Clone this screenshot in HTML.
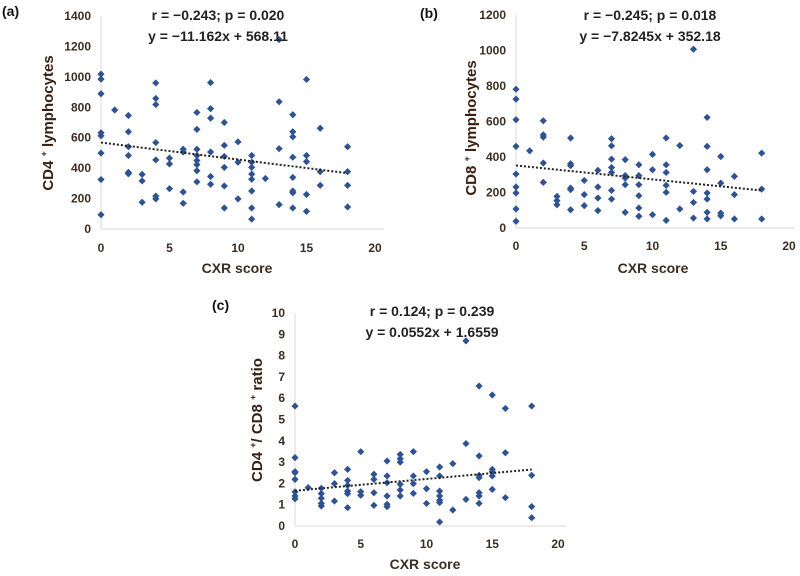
<!DOCTYPE html>
<html><head><meta charset="utf-8"><style>
body{margin:0;background:#fff;}
svg{display:block;font-family:"Liberation Sans",sans-serif;font-weight:bold;}
</style></head><body>
<svg id="chart" width="800" height="576" viewBox="0 0 800 576" xmlns="http://www.w3.org/2000/svg"></svg>
<script>
const xTicks=[0,5,10,15,20];
const aYTicks=[0,200,400,600,800,1000,1200,1400];
const bYTicks=[0,200,400,600,800,1000,1200];
const cYTicks=[0,1,2,3,4,5,6,7,8,9,10];
const aX=[0,0,0,0,0,0,0,0,1,2,2,2,2,2,2,3,3,3,4,4,4,4,4,4,4,5,5,5,6,6,6,6,7,7,7,7,7,7,7,7,8,8,8,8,8,8,9,9,9,9,9,9,10,10,10,11,11,11,11,11,11,11,11,12,13,13,13,13,14,14,14,14,14,14,14,14,15,15,15,15,15,16,16,16,18,18,18,18];
const aY=[1018,985,889,633,613,499,325,94,782,746,639,541,483,372,363,359,316,176,960,858,818,568,454,216,198,466,428,265,524,506,243,169,766,655,524,483,450,423,383,310,962,791,729,506,345,294,700,550,477,405,283,138,573,439,198,483,439,405,361,327,250,138,65,332,1245,836,528,160,751,639,606,472,339,250,238,138,983,483,443,227,116,662,377,287,541,377,287,145];
const bX=[0,0,0,0,0,0,0,0,0,1,2,2,2,2,2,3,3,3,4,4,4,4,4,4,5,5,5,6,6,6,6,7,7,7,7,7,7,7,8,8,8,8,8,9,9,9,9,9,9,10,10,10,11,11,11,11,11,11,12,12,13,13,13,13,14,14,14,14,14,14,14,15,15,15,15,16,16,16,18,18,18];
const bY=[782,726,610,460,304,231,197,107,38,435,604,525,512,366,257,178,154,131,507,362,351,225,216,103,268,188,126,325,231,169,98,503,463,388,341,313,212,163,385,295,281,244,88,356,295,244,182,113,66,415,328,75,507,356,313,240,201,43,465,107,1007,206,144,56,623,460,328,197,163,88,51,403,253,84,69,291,188,51,422,219,51];
const cX=[0,0,0,0,0,0,0,0,1,2,2,2,2,2,3,3,3,4,4,4,4,4,4,5,5,5,6,6,6,6,7,7,7,7,7,7,8,8,8,8,8,8,9,9,9,9,10,10,10,11,11,11,11,11,11,11,12,12,13,13,13,14,14,14,14,14,14,14,15,15,15,15,15,16,16,16,18,18,18,18];
const cY=[5.63,3.21,2.55,2.5,2.19,1.6,1.41,1.28,1.8,1.77,1.52,1.3,1.06,0.94,2.5,1.99,1.17,2.66,2.14,1.91,1.64,1.52,0.86,3.49,1.61,1.44,2.43,2.19,1.56,0.97,3.05,2.35,2.03,1.41,1.02,0.91,3.36,3.16,3.0,1.96,1.69,1.41,3.49,2.35,1.99,1.53,2.55,1.75,1.06,2.77,2.35,1.64,1.41,1.21,1.1,0.19,2.93,0.75,8.69,3.87,1.25,6.57,3.29,2.38,2.27,1.56,1.41,1.06,6.15,2.66,2.54,2.35,1.72,5.52,3.44,1.33,5.63,2.38,0.91,0.39];
const aFit=[-11.162,568.11], bFit=[-7.8245,352.18], cFit=[0.0552,1.6559];

const NS="http://www.w3.org/2000/svg";
const svg=document.getElementById('chart');
function mk(tag,attrs,parent,text){const e=document.createElementNS(NS,tag);for(const k in attrs)e.setAttribute(k,attrs[k]);if(text!==undefined)e.textContent=text;(parent||svg).appendChild(e);return e;}

function panel(p){
  const g=mk('g',{});
  
  
  const sx=v=>p.x0+(v-0)*(p.x1-p.x0)/20;
  const sy=v=>p.y0-(v)*(p.y0-p.yTop)/p.yMax;
  const ax=mk('line',{x1:p.x0,y1:p.y0,x2:p.xEnd,y2:p.y0,stroke:'#d9d9d9','stroke-width':1},g);
  
  
  const ay=mk('line',{x1:p.x0,y1:p.y0,x2:p.x0,y2:p.yTop,stroke:'#d9d9d9','stroke-width':1},g);
  
  
  p.yTicks.forEach(t=>{
    const e=mk('text',{x:p.x0-10,y:sy(t)+4,'text-anchor':'end','font-size':12,fill:'#3a2e22'},g,String(t));
    
    
  });
  xTicks.forEach(t=>{
    const e=mk('text',{x:sx(t),y:p.xtY,'text-anchor':'middle','font-size':12,fill:'#3a2e22'},g,String(t));
    
    
  });
  p.xs.forEach((xv,i)=>{
    const cx=sx(xv),cy=sy(p.ys[i]),r=3.6;
    const d=mk('polygon',{points:`${cx},${cy-r} ${cx+r},${cy} ${cx},${cy+r} ${cx-r},${cy}`,fill:'#2f5291'},g);
    
    
  });
  const tl=mk('line',{x1:sx(0),y1:sy(p.fit[1]),x2:sx(18),y2:sy(p.fit[0]*18+p.fit[1]),stroke:'#222','stroke-width':2,'stroke-dasharray':'2,2'},g);
  
  
  const r1=mk('text',{x:p.annX,y:p.annY,'text-anchor':'middle','font-size':14,fill:'#222'},g,p.r);
  
  
  const r2=mk('text',{x:p.annX,y:p.annY+21,'text-anchor':'middle','font-size':14,fill:'#222'},g,p.eq);
  
  
  const xt=mk('text',{x:p.xTitleX,y:p.xTitleY,'text-anchor':'middle','font-size':14,fill:'#3a2e22'},g,'CXR score');
  
  
  const yt=mk('text',{x:0,y:0,'text-anchor':'middle','font-size':15,fill:'#3a2010',transform:`translate(${p.yTitleX},${p.yTitleY}) rotate(-90)`},g);
  yt.innerHTML=p.yTitle;
  
  
  const lb=mk('text',{x:p.lbX,y:p.lbY,'font-size':14,fill:'#111'},g,p.label);
  
  
}
panel({id:'a',x0:101,x1:375,xEnd:384,y0:229,yTop:16,yMax:1400,yTicks:aYTicks,xtY:252,xs:aX,ys:aY,fit:aFit,
  annX:218,annY:20,r:'r = \u22120.243; p = 0.020',eq:'y = \u221211.162x + 568.11',xTitleX:237,xTitleY:273,
  yTitleX:53,yTitleY:123,yTitle:'CD4 <tspan font-size="9" dy="-6">+</tspan><tspan dy="6"> lymphocytes</tspan>',label:'(a)',lbX:2,lbY:16});
panel({id:'b',x0:516,x1:789,xEnd:795,y0:228,yTop:15,yMax:1200,yTicks:bYTicks,xtY:250,xs:bX,ys:bY,fit:bFit,
  annX:650,annY:20,r:'r = \u22120.245; p = 0.018',eq:'y = \u22127.8245x + 352.18',xTitleX:653,xTitleY:273,
  yTitleX:476,yTitleY:128,yTitle:'CD8 <tspan font-size="9" dy="-6">+</tspan><tspan dy="6"> lymphocytes</tspan>',label:'(b)',lbX:420,lbY:18});
panel({id:'c',x0:295,x1:558,xEnd:566,y0:526,yTop:313,yMax:10,yTicks:cYTicks,xtY:548,xs:cX,ys:cY,fit:cFit,
  annX:432,annY:316,r:'r = 0.124; p = 0.239',eq:'y = 0.0552x + 1.6559',xTitleX:425,xTitleY:569,
  yTitleX:262,yTitleY:420,yTitle:'CD4 <tspan font-size="9" dy="-6">+</tspan><tspan dy="6">/ CD8 </tspan><tspan font-size="9" dy="-6">+</tspan><tspan dy="6"> ratio</tspan>',label:'(c)',lbX:212,lbY:310});
</script>
</body></html>
